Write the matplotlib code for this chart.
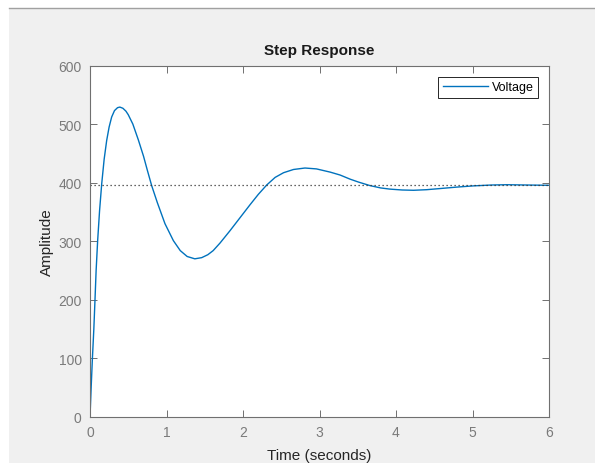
import matplotlib
matplotlib.use("Agg")
import matplotlib.pyplot as plt
from matplotlib.patches import Rectangle
from matplotlib.lines import Line2D

plt.rcParams['font.family'] = ['Liberation Sans', 'DejaVu Sans']

time_s = [0.00, 0.015, 0.03, 0.05, 0.065, 0.08, 0.10, 0.125, 0.153, 0.185,
          0.218, 0.25, 0.283, 0.32, 0.36, 0.39, 0.43, 0.47, 0.50, 0.56,
          0.632, 0.70, 0.75, 0.806, 0.88, 0.98, 1.09, 1.18, 1.27, 1.37,
          1.46, 1.54, 1.61, 1.70, 1.83, 1.96, 2.09, 2.20, 2.31, 2.42,
          2.53, 2.66, 2.81, 2.96, 3.14, 3.27, 3.40, 3.51, 3.66, 3.80,
          3.92, 4.08, 4.23, 4.40, 4.58, 4.80, 5.01, 5.25, 5.45, 5.70, 6.00]
voltage = [0, 50, 96, 150, 199, 250, 301, 352, 398, 440,
           472, 495, 512, 523, 528, 529, 527, 522, 516, 500,
           473, 445, 421, 395, 366, 330, 301, 284, 274, 270,
           272, 277, 284, 297, 318, 340, 362, 380, 396, 409,
           417, 422.5, 425, 423.5, 418, 413, 406, 401, 395, 391,
           389, 387.5, 387, 388, 390, 392.5, 394.5, 396, 396.5, 396, 395.5]
final_value = 395.5

x_ticks = [0, 1, 2, 3, 4, 5, 6]
y_ticks = [0, 100, 200, 300, 400, 500, 600]

W, H = 595, 464
fig = plt.figure(figsize=(W / 100, H / 100), dpi=100, facecolor='white')

# grey window background with a thin top border like the screenshot
fig.patches.append(Rectangle((9 / W, 0), 1 - 9 / W, 1 - 9 / H,
                             transform=fig.transFigure, facecolor='#f0f0f0',
                             edgecolor='none', zorder=-10))
fig.lines.append(Line2D([9 / W, 1], [1 - 8.5 / H, 1 - 8.5 / H],
                        transform=fig.transFigure, color='#a0a0a0', lw=1,
                        zorder=-9))

ax = fig.add_axes([90 / W, 1 - 418 / H, 459 / W, 351.5 / H])
ax.set_facecolor('white')

ax.plot(time_s, voltage, color='#0072BD', lw=1.0, label='Voltage')
ax.plot([x_ticks[0], x_ticks[-1]], [final_value, final_value],
        color='#333333', ls=(0, (1, 2.2)), lw=0.9)

ax.set_xlim(x_ticks[0], x_ticks[-1])
ax.set_ylim(y_ticks[0], y_ticks[-1])
ax.set_xticks(x_ticks)
ax.set_yticks(y_ticks)

ax.tick_params(direction='in', length=5, width=0.7, color='#707070',
               labelcolor='#7a7a7a', labelsize=10, top=True, right=True, pad=6)
for s in ax.spines.values():
    s.set_color('#707070')
    s.set_linewidth(0.8)

ax.set_title('Step Response', fontsize=11, fontweight='bold', color='#1a1a1a', pad=8)
ax.set_xlabel('Time (seconds)', fontsize=11, color='#262626', labelpad=6)
ax.set_ylabel('Amplitude', fontsize=11, color='#262626', labelpad=3)

leg = ax.legend(loc='upper right', fontsize=9, fancybox=False, framealpha=1,
                edgecolor='#262626', handlelength=3.6, handletextpad=0.3,
                borderpad=0.35, borderaxespad=0.9)
leg.get_frame().set_linewidth(0.7)

fig.savefig('out.png', dpi=100, facecolor=fig.get_facecolor())
